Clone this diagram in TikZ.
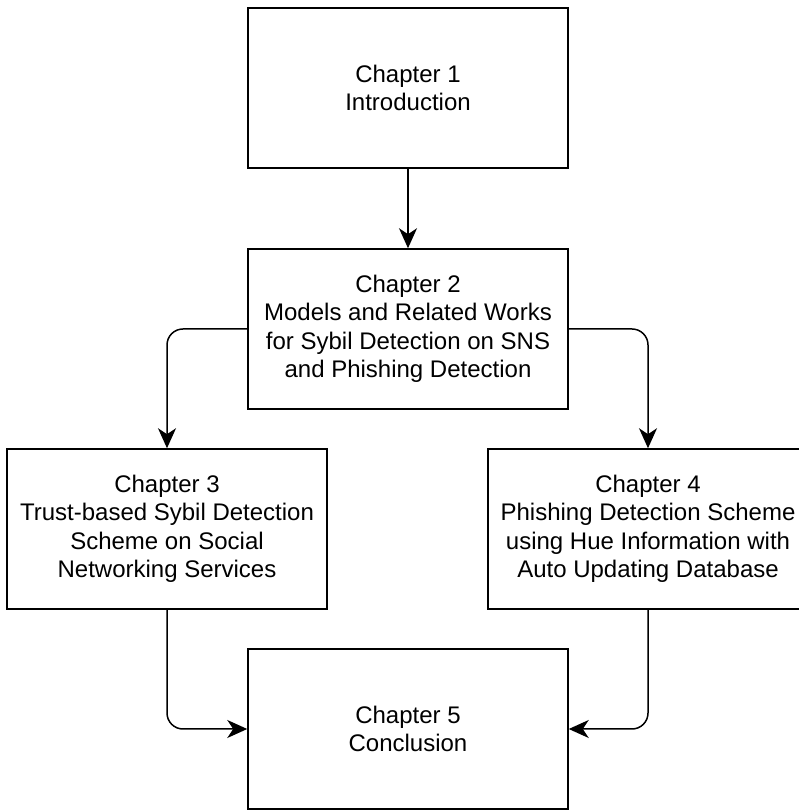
\documentclass[tikz,border=0pt]{standalone}
\usepackage{fontspec}
\setmainfont{Liberation Sans}
\usetikzlibrary{arrows.meta}
\begin{document}
\begin{tikzpicture}[x=1pt,y=1pt,
  chapbox/.style={draw=black, line width=1.5pt, fill=white,
    minimum width=320pt, minimum height=160pt, inner sep=0pt,
    align=center, font=\fontsize{24}{28.5}\selectfont},
  link/.style={draw=black, line width=1.5pt, rounded corners=16pt,
    -{Stealth[length=20pt, width=18pt, inset=6pt]}}]
  \useasboundingbox (0,0) rectangle (799,810);
  \begin{scope}
    \clip (0,0) rectangle (799,810);
    \node[chapbox] (c1) at (408,722) {Chapter 1\\Introduction};
    \node[chapbox] (c2) at (408,481) {Chapter 2\\Models and Related Works\\for Sybil Detection on SNS\\and Phishing Detection};
    \node[chapbox] (c3) at (167,281) {Chapter 3\\Trust-based Sybil Detection\\Scheme on Social\\Networking Services};
    \node[chapbox] (c4) at (648,281) {Chapter 4\\Phishing Detection Scheme\\using Hue Information with\\Auto Updating Database};
    \node[chapbox] (c5) at (408,81) {Chapter 5\\Conclusion};

    \draw[link] (c1.south) -- (c2.north);
    \draw[link] (c2.west) -| (c3.north);
    \draw[link] (c2.east) -| (c4.north);
    \draw[link] (c3.south) |- (c5.west);
    \draw[link] (c4.south) |- (c5.east);
  \end{scope}
\end{tikzpicture}
\end{document}
